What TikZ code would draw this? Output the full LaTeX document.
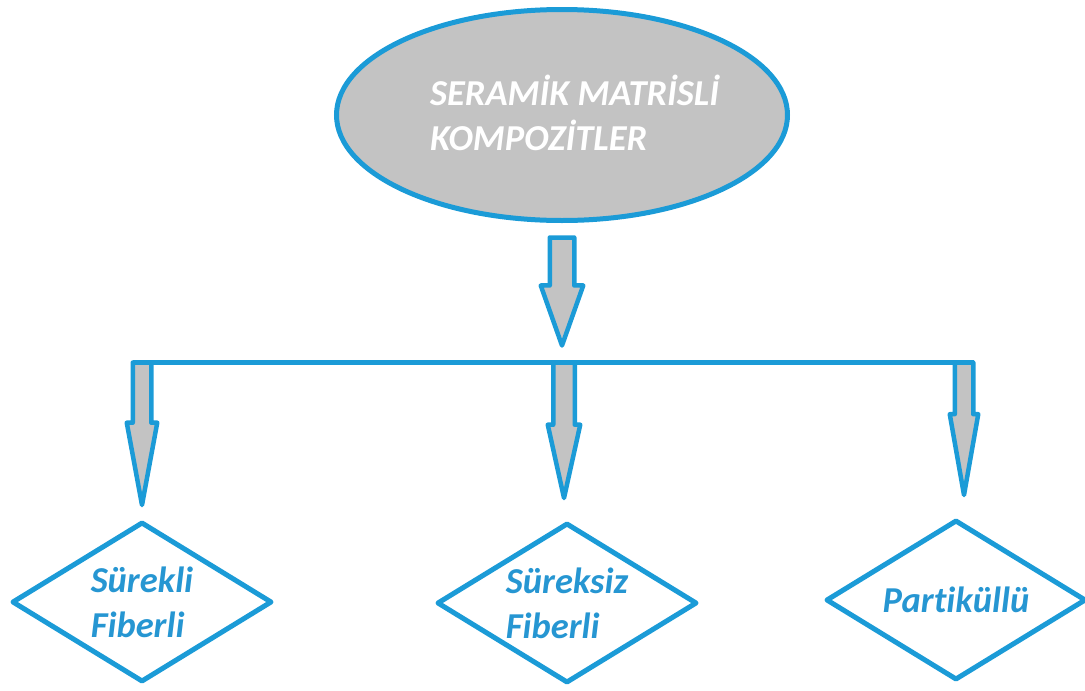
\documentclass[tikz,border=0pt]{standalone}
\usepackage{fontspec}
\setmainfont{Carlito}[Ligatures={NoCommon}]
\usetikzlibrary{shapes.geometric,shapes.arrows}
\definecolor{lineblue}{RGB}{27,155,215}
\definecolor{textblue}{RGB}{38,150,210}
\definecolor{fillgray}{RGB}{195,195,195}
\begin{document}
\begin{tikzpicture}[x=1pt,y=1pt,
  labelfont/.style={font=\fontsize{36.5}{45}\selectfont\bfseries\itshape},
  rootbox/.style={ellipse, draw=lineblue, fill=fillgray, line width=5pt,
    minimum width=451pt, minimum height=211pt, inner sep=0pt, outer sep=0pt},
  titletext/.style={labelfont, text=white, align=left, inner sep=0pt},
  choice/.style={diamond, draw=lineblue, line width=5pt, line join=round,
    minimum width=258pt, minimum height=158pt, inner sep=-30pt, outer sep=0pt,
    labelfont, text=textblue, align=left},
  blockarrow/.style={single arrow, draw=lineblue, fill=fillgray,
    line width=4.5pt, line join=round, rotate=-90, anchor=tail,
    inner xsep=0pt, minimum width=0pt, outer sep=0pt,
    single arrow head indent=0pt},
  bus/.style={draw=lineblue, line width=5pt, line cap=rect}]
\useasboundingbox (0,0) rectangle (1085,-691);

% root ellipse and its two-line title (anchored on the last baseline)
\node[rootbox] (root) at (562,-115) {};
\node[titletext, anchor=base west] (title) at (430,-150)
  {SERAMİK MATRİSLİ\\KOMPOZİTLER};

% main block arrow down to the distribution bar
\node[blockarrow, minimum height=108pt, inner ysep=10pt,
  single arrow head extend=9pt, single arrow tip angle=39] (a0)
  at (562,-237.5) {};

% branch arrows
\node[blockarrow, minimum height=142.5pt, inner ysep=7pt,
  single arrow head extend=6pt, single arrow tip angle=21] (a1)
  at (142,-362.5) {};
\node[blockarrow, minimum height=135.5pt, inner ysep=8.5pt,
  single arrow head extend=5.5pt, single arrow tip angle=25] (a2)
  at (564,-362.5) {};
\node[blockarrow, minimum height=132.5pt, inner ysep=7pt,
  single arrow head extend=5pt, single arrow tip angle=20] (a3)
  at (964,-362.5) {};

% distribution bar
\coordinate (bl) at (135,-362.5);
\coordinate (br) at (971,-362.5);
\draw[bus] (bl) -- (br);

% the three kinds
\node[choice] (d1) at (142,-602) {Sürekli\\Fiberli};
\node[choice] (d2) at (567,-603) {Süreksiz\\Fiberli};
\node[choice] (d3) at (956,-600) {Partiküllü};
\end{tikzpicture}
\end{document}
